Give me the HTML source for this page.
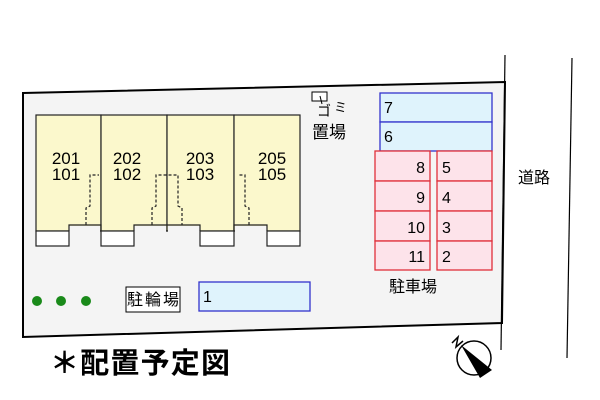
<!DOCTYPE html><html><head><meta charset="utf-8"><style>body{margin:0;background:#fff}svg{display:block}text{font-family:"Liberation Sans","Noto Sans CJK JP",sans-serif}</style></head><body>
<svg width="600" height="400" viewBox="0 0 600 400" xmlns="http://www.w3.org/2000/svg">
<polygon points="23,93 505,82 502,323 23,337" fill="#f4f4f4" stroke="#000" stroke-width="2"/>
<line x1="505" y1="55" x2="501" y2="350" stroke="#000" stroke-width="1.2"/>
<line x1="572" y1="58" x2="567" y2="358" stroke="#000" stroke-width="1.2"/>
<g stroke="#222" stroke-width="1.2" fill="#fbf8cc">
<rect x="36" y="115" width="65" height="116"/><rect x="101" y="115" width="66" height="116"/><rect x="167" y="115" width="67" height="116"/><rect x="234" y="115" width="66" height="116"/>
</g>
<g fill="#f4f4f4" stroke="none">
<rect x="69" y="226" width="31" height="10"/><rect x="134" y="226" width="32" height="10"/><rect x="168" y="226" width="32" height="10"/><rect x="235" y="226" width="32" height="10"/>
</g>
<g stroke="#222" stroke-width="1.2" fill="none">
<polyline points="69,231 69,225 101,225 101,231"/><polyline points="134,231 134,225 167,225 200,225 200,231"/><polyline points="234,231 234,225 267,225 267,231"/>
</g>
<g stroke="#222" stroke-width="1.2" fill="#fff">
<rect x="36" y="231" width="33" height="15"/><rect x="101" y="231" width="33" height="15"/><rect x="200" y="231" width="34" height="15"/><rect x="267" y="231" width="33" height="15"/>
</g>
<g stroke="#222" stroke-width="1.2" fill="none" stroke-dasharray="3,2">
<polyline points="86,225 86,208 90,206 90,175 99,175"/><polyline points="152,225 152,208 156,206 156,175 170,175 178,175 178,206 182,208 182,225"/><polyline points="249,225 249,208 245,206 245,175 238,175"/>
</g>
<g font-size="17" text-anchor="middle" fill="#000">
<text x="66" y="164">201</text><text x="66" y="180">101</text>
<text x="127" y="164">202</text><text x="127" y="180">102</text>
<text x="200" y="164">203</text><text x="200" y="180">103</text>
<text x="272" y="164">205</text><text x="272" y="180">105</text>
</g>
<rect x="312" y="92" width="15" height="9" fill="#fff" stroke="#000"/>
<line x1="320" y1="96" x2="322" y2="104" stroke="#000"/>
<text x="317" y="116" font-size="14">ゴ</text><text x="334" y="112" font-size="13">ミ</text>
<text x="312" y="138" font-size="17">置場</text>
<g stroke="#3333cc" stroke-width="1.3" fill="#dff3fc">
<rect x="380" y="93" width="112" height="29"/><rect x="380" y="122" width="112" height="29"/><rect x="199" y="282" width="111" height="29"/>
</g>
<g font-size="16"><text x="384" y="113">7</text><text x="384" y="142">6</text><text x="203" y="302">1</text></g>
<g stroke="#e0303a" stroke-width="1.3" fill="#fde3ea">
<rect x="375" y="151" width="55" height="30"/><rect x="375" y="181" width="55" height="30"/><rect x="375" y="211" width="55" height="30"/><rect x="375" y="241" width="55" height="29"/>
<rect x="437" y="151" width="55" height="30"/><rect x="437" y="181" width="55" height="30"/><rect x="437" y="211" width="55" height="30"/><rect x="437" y="241" width="55" height="29"/>
</g>
<g font-size="16" text-anchor="end"><text x="425" y="173">8</text><text x="425" y="203">9</text><text x="425" y="233">10</text><text x="425" y="262">11</text></g>
<g font-size="16"><text x="442" y="173">5</text><text x="442" y="203">4</text><text x="442" y="233">3</text><text x="442" y="262">2</text></g>
<text x="389" y="292" font-size="16">駐車場</text>
<text x="518" y="183" font-size="16">道路</text>
<rect x="126" y="287" width="54" height="25" fill="#fff" stroke="#000"/>
<text x="127" y="305" font-size="16" textLength="52">駐輪場</text>
<g fill="#1a8a1a"><circle cx="37" cy="301" r="5"/><circle cx="61" cy="301" r="5"/><circle cx="86" cy="301" r="5"/></g>
<text x="50" y="373" font-size="29" font-weight="bold" textLength="180">＊配置予定図</text>
<circle cx="474" cy="358" r="17" fill="#fff" stroke="#000" stroke-width="1.5"/>
<polygon points="461,345 492,370 480,378" fill="#000"/>
<polyline points="452,343 458,337 456,347 463,341" fill="none" stroke="#000" stroke-width="1.5"/>
</svg></body></html>
